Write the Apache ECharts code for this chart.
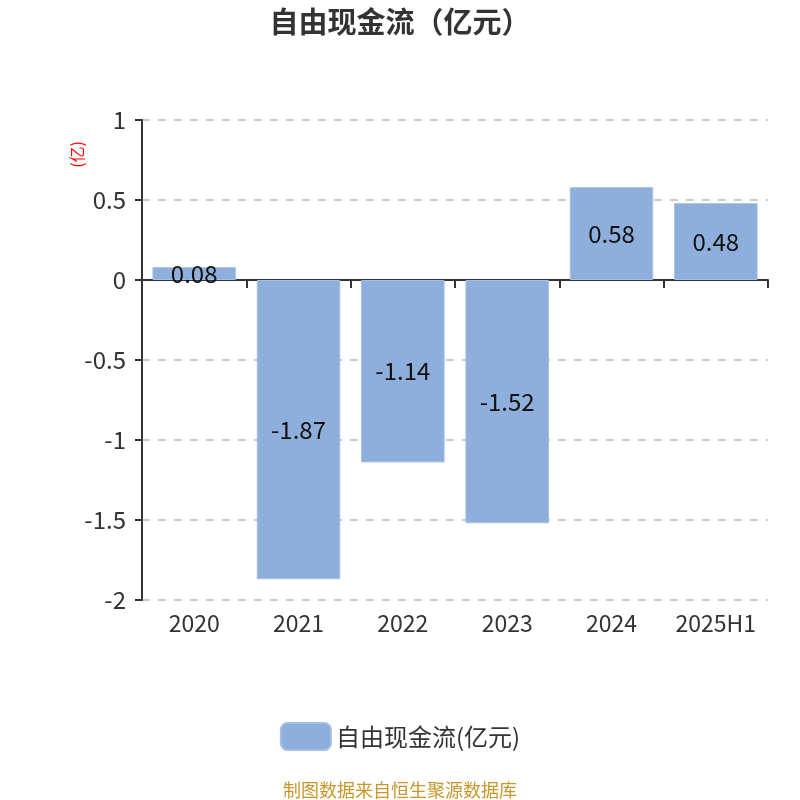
<!DOCTYPE html>
<html>
<head>
<meta charset="utf-8">
<script src="https://cdn.jsdelivr.net/npm/echarts@6/dist/echarts.min.js"></script>
<style>
    html, body {margin: 0; padding: 0; background: #fff;}
    #main {width: 800px; height: 800px;}
</style>
</head>
<body>
<div id="main"></div>
<script>
    // 年份
    var years = ['2020', '2021', '2022', '2023', '2024', '2025H1'];
    // 自由现金流（亿元）
    var freeCashFlow = [0.08, -1.87, -1.14, -1.52, 0.58, 0.48];
    var seriesName = '自由现金流(亿元)';

    var chart = echarts.init(document.getElementById('main'));
    var font = '"Noto Sans CJK SC", "Noto Sans", sans-serif';
    var option = {
        textStyle: {fontFamily: font},
        title: {
            text: '自由现金流（亿元）',
            left: 'center',
            top: 2,
            textStyle: {fontSize: 29, fontWeight: 'bold', color: '#333', fontFamily: font}
        },
        legend: {
            bottom: 44,
            left: 'center',
            itemWidth: 50,
            itemHeight: 27,
            itemGap: 10,
            textStyle: {fontSize: 24, color: '#333', fontFamily: font},
            data: [seriesName]
        },
        grid: {left: 142, right: 32, top: 120, bottom: 200, containLabel: false},
        xAxis: [{
            type: 'category',
            data: years,
            axisLine: {onZero: true, lineStyle: {color: '#333', width: 2}},
            axisTick: {show: true, length: 8, lineStyle: {color: '#333', width: 2}},
            axisLabel: {show: false}
        }, {
            type: 'category',
            data: years,
            position: 'bottom',
            axisLine: {show: false, onZero: false},
            axisTick: {show: false},
            axisLabel: {interval: 0, fontSize: 23, color: '#333', margin: 12, fontFamily: font}
        }],
        yAxis: {
            type: 'value',
            min: -2,
            max: 1,
            interval: 0.5,
            axisLine: {show: true, lineStyle: {color: '#333', width: 2}},
            axisTick: {show: true, length: 7, lineStyle: {color: '#333', width: 2}},
            axisLabel: {fontSize: 24, color: '#333', margin: 16, fontFamily: font},
            splitLine: {lineStyle: {type: [8, 8], color: '#bbb', width: 1.5}}
        },
        graphic: [{
            type: 'text',
            left: 69,
            top: 141,
            rotation: Math.PI / 2,
            style: {text: '(亿)', fill: '#ff0000', fontSize: 16, fontFamily: font}
        }, {
            type: 'text',
            left: 'center',
            bottom: 1,
            style: {text: '制图数据来自恒生聚源数据库', fill: '#c8962a', fontSize: 18, fontFamily: font}
        }],
        series: [{
            name: seriesName,
            type: 'bar',
            xAxisIndex: 0,
            barWidth: '80%',
            data: freeCashFlow,
            itemStyle: {color: '#8eaedb', borderColor: '#a4bfe6', borderWidth: 1},
            label: {
                show: true,
                position: 'inside',
                fontSize: 24,
                color: '#111',
                fontFamily: font
            }
        }]
    };
    chart.setOption(option);
</script>
</body>
</html>
